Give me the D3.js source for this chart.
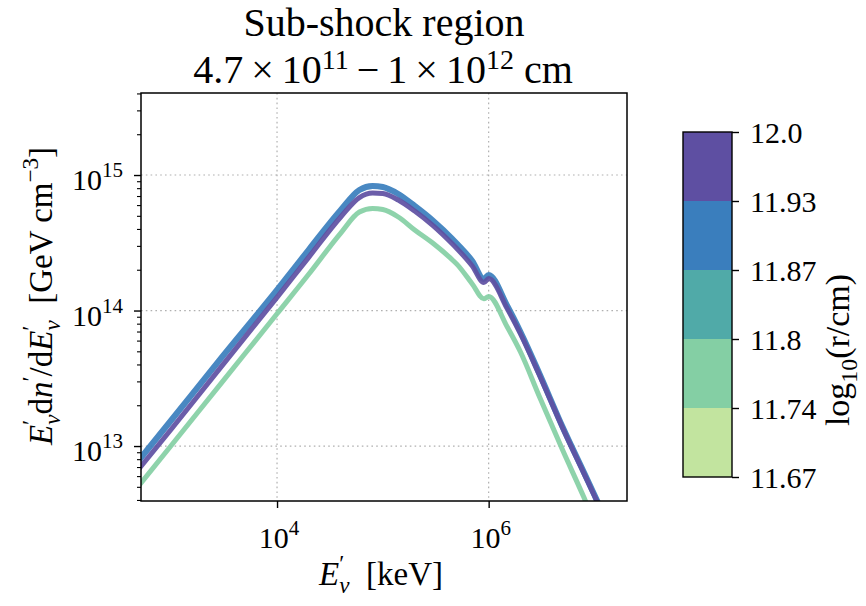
<!DOCTYPE html>
<html>
<head>
<meta charset="utf-8">
<script src="https://cdn.jsdelivr.net/npm/d3@7"></script>
<style>
  body { margin: 0; background: #fff; }
  text { font-family: "Liberation Serif", "Times New Roman", serif; fill: #000; }
</style>
</head>
<body>
<div id="chart"></div>
<script>
// energy grid (keV) shared by the three spectra
const energy = [400, 1000, 3000, 1e4, 2e4, 4e4, 6e4, 8e4, 1e5, 1.4e5, 2e5, 3e5, 4.5e5, 5e5,
                7e5, 9e5, 1e6, 1.5e6, 2e6, 3e6, 5e6, 8e6, 1e7, 1.3e7];

// E dn/dE (GeV cm^-3) for each radius
const spec_1177 = [4.15e12, 1.01e13, 2.94e13, 9.47e13, 1.86e14, 3.73e14, 5.33e14, 5.66e14, 5.56e14, 4.90e14,
                   3.93e14, 3.12e14, 2.38e14, 2.20e14, 1.57e14, 1.22e14, 1.27e14, 7.55e13, 4.94e13, 2.34e13,
                   9.34e12, 4.13e12, 2.75e12, 1.71e12];
const spec_1190 = [6.40e12, 1.55e13, 4.51e13, 1.42e14, 2.82e14, 5.52e14, 7.75e14, 8.30e14, 8.16e14, 7.24e14,
                   5.91e14, 4.58e14, 3.40e14, 3.12e14, 2.32e14, 1.71e14, 1.83e14, 1.08e14, 6.94e13, 3.46e13,
                   1.38e13, 6.32e12, 4.35e12, 2.79e12];
const spec_1200 = [5.52e12, 1.33e13, 3.89e13, 1.25e14, 2.48e14, 4.90e14, 6.82e14, 7.36e14, 7.30e14, 6.54e14,
                   5.42e14, 4.21e14, 3.12e14, 2.87e14, 2.13e14, 1.61e14, 1.72e14, 1.03e14, 6.71e13, 3.37e13,
                   1.36e13, 6.21e12, 4.28e12, 2.75e12];

const radii = [11.77, 11.90, 12.0];
const spectra = [spec_1177, spec_1190, spec_1200];

// axis limits and ticks
const xLim = [518, 2.03e7];
const yLim = [3.93e12, 4.03e15];
const xTicks = [1e4, 1e6];
const xTickExp = ["4", "6"];
const yTicks = [1e13, 1e14, 1e15];
const yTickExp = ["13", "14", "15"];

// colorbar
const cbBounds = [11.67, 11.736, 11.802, 11.868, 11.934, 12.0];
const cbColors = ["#c2e49f", "#84cfa4", "#50aaa8", "#3a7ebd", "#5e4fa2"];
const cbTickLabels = ["11.67", "11.74", "11.8", "11.87", "11.93", "12.0"];

const W = 866, H = 606;
const plot = {left: 141, right: 627, top: 93, bottom: 501};
const fs = 30;
const lfs = 33;

const svg = d3.select("#chart").append("svg")
  .attr("width", W).attr("height", H)
  .style("background", "#fff");

const x = d3.scaleLog().domain(xLim).range([plot.left, plot.right]);
const y = d3.scaleLog().domain(yLim).range([plot.bottom, plot.top]);

const colorOf = d3.scaleThreshold()
  .domain(cbBounds.slice(1, -1))
  .range(cbColors);

// small helper for mathtext-ish labels
function richText(sel, parts, size, supRaise) {
  const raise = supRaise || 0.42;
  let base = 0;
  parts.forEach(p => {
    const off = p.sup ? -raise * size : p.sub ? 0.24 * size : 0;
    const ts = sel.append("tspan").text(p.t).attr("dy", off - base);
    base = off;
    if (p.sup || p.sub) ts.attr("font-size", size * 0.7);
    if (p.it) ts.attr("font-style", "italic");
    if (p.dx) ts.attr("dx", p.dx);
  });
}

// grid
const grid = svg.append("g")
  .attr("stroke", "#b0b0b0").attr("stroke-width", 1.2).attr("stroke-dasharray", "1.6,3.2");
grid.selectAll(".gx").data(xTicks).enter().append("line")
  .attr("x1", d => x(d)).attr("x2", d => x(d))
  .attr("y1", plot.top).attr("y2", plot.bottom);
grid.selectAll(".gy").data(yTicks).enter().append("line")
  .attr("y1", d => y(d)).attr("y2", d => y(d))
  .attr("x1", plot.left).attr("x2", plot.right);

// lines
svg.append("clipPath").attr("id", "clip").append("rect")
  .attr("x", plot.left).attr("y", plot.top)
  .attr("width", plot.right - plot.left).attr("height", plot.bottom - plot.top);

const line = d3.line()
  .x((d, i) => x(energy[i]))
  .y(d => y(d))
  .curve(d3.curveMonotoneX);

const widths = [5, 6, 5];
svg.append("g").attr("clip-path", "url(#clip)")
  .selectAll("path").data(spectra).enter().append("path")
  .attr("d", d => line(d))
  .attr("fill", "none")
  .attr("stroke", (d, i) => colorOf(radii[i]))
  .attr("stroke-opacity", 0.92)
  .attr("stroke-width", (d, i) => widths[i])
  .attr("stroke-linejoin", "round");

// frame
svg.append("rect")
  .attr("x", plot.left).attr("y", plot.top)
  .attr("width", plot.right - plot.left).attr("height", plot.bottom - plot.top)
  .attr("fill", "none").attr("stroke", "#000").attr("stroke-width", 1.5);

// x axis ticks
svg.append("g")
  .attr("transform", "translate(0," + plot.bottom + ")")
  .call(d3.axisBottom(x).tickValues(xTicks).tickSize(7).tickFormat(""))
  .call(g => g.select(".domain").remove())
  .call(g => g.selectAll("line").attr("stroke-width", 1.4));

xTicks.forEach((t, i) => {
  const tx = svg.append("text")
    .attr("x", x(t) + 2).attr("y", plot.bottom + 47)
    .attr("text-anchor", "middle").attr("font-size", fs);
  richText(tx, [{t: "10"}, {t: xTickExp[i], sup: true}], fs);
});

// y axis ticks (major + minor)
const yMinor = [];
for (let e = 12; e <= 15; e++) {
  for (let k = 2; k <= 9; k++) {
    const v = k * Math.pow(10, e);
    if (v > yLim[0] && v < yLim[1]) yMinor.push(v);
  }
}
svg.append("g")
  .attr("transform", "translate(" + plot.left + ",0)")
  .call(d3.axisLeft(y).tickValues(yMinor).tickSize(4).tickFormat(""))
  .call(g => g.select(".domain").remove())
  .call(g => g.selectAll("line").attr("stroke-width", 1.1));
svg.append("g")
  .attr("transform", "translate(" + plot.left + ",0)")
  .call(d3.axisLeft(y).tickValues(yTicks).tickSize(7).tickFormat(""))
  .call(g => g.select(".domain").remove())
  .call(g => g.selectAll("line").attr("stroke-width", 1.4));

yTicks.forEach((t, i) => {
  const ty = svg.append("text")
    .attr("x", plot.left - 18).attr("y", y(t) + 15)
    .attr("text-anchor", "end").attr("font-size", fs);
  richText(ty, [{t: "10"}, {t: yTickExp[i], sup: true}], fs);
});

// axis labels
const xl = svg.append("text")
  .attr("x", 381).attr("y", 585)
  .attr("text-anchor", "middle").attr("font-size", lfs);
richText(xl, [{t: "E", it: true}, {t: "\u2032", sup: true}, {t: "\u03bd", sub: true, it: true, dx: -5},
              {t: "\u2002[keV]"}], lfs);

const yl = svg.append("text")
  .attr("transform", "translate(52,296) rotate(-90)")
  .attr("text-anchor", "middle").attr("font-size", lfs);
richText(yl, [{t: "E", it: true}, {t: "\u2032", sup: true}, {t: "\u03bd", sub: true, it: true, dx: -5},
              {t: "d"}, {t: "n", it: true}, {t: "\u2032", sup: true}, {t: "/d"}, {t: "E", it: true},
              {t: "\u2032", sup: true}, {t: "\u03bd", sub: true, it: true, dx: -5},
              {t: "\u2002[GeV cm"}, {t: "\u22123", sup: true}, {t: "]"}], lfs);

// title
svg.append("text")
  .attr("x", 384).attr("y", 36)
  .attr("text-anchor", "middle").attr("font-size", 40)
  .text("Sub-shock region");
const t2 = svg.append("text")
  .attr("x", 383).attr("y", 83)
  .attr("text-anchor", "middle").attr("font-size", 40);
richText(t2, [{t: "4.7\u2009\u00d7\u200910"}, {t: "11", sup: true},
              {t: "\u2009\u2212\u20091\u2009\u00d7\u200910"}, {t: "12", sup: true}, {t: " cm"}], 40, 0.34);

// colorbar
const cb = {left: 683, right: 732, top: 132, bottom: 477};
const cbScale = d3.scaleLinear().domain([cbBounds[0], cbBounds[cbBounds.length - 1]])
  .range([cb.bottom, cb.top]);

svg.append("g").selectAll("rect").data(cbColors).enter().append("rect")
  .attr("x", cb.left)
  .attr("y", (d, i) => cbScale(cbBounds[i + 1]))
  .attr("width", cb.right - cb.left)
  .attr("height", (d, i) => cbScale(cbBounds[i]) - cbScale(cbBounds[i + 1]))
  .attr("fill", d => d);

svg.append("rect")
  .attr("x", cb.left).attr("y", cb.top)
  .attr("width", cb.right - cb.left).attr("height", cb.bottom - cb.top)
  .attr("fill", "none").attr("stroke", "#000").attr("stroke-width", 1.4);

svg.append("g")
  .attr("transform", "translate(" + cb.right + ",0)")
  .call(d3.axisRight(cbScale).tickValues(cbBounds).tickSize(7).tickPadding(11)
    .tickFormat((d, i) => cbTickLabels[i]))
  .call(g => g.select(".domain").remove())
  .call(g => g.selectAll("line").attr("stroke-width", 1.4))
  .call(g => g.selectAll("text")
    .attr("font-size", fs).attr("font-family", "Liberation Serif, serif")
    .attr("fill", "#000").attr("dy", "0.36em"));

// colorbar label
const cl = svg.append("text")
  .attr("transform", "translate(849,350) rotate(-90)")
  .attr("text-anchor", "middle").attr("font-size", 34);
richText(cl, [{t: "log"}, {t: "10", sub: true}, {t: "(r/cm)"}], 34);
</script>
</body>
</html>
